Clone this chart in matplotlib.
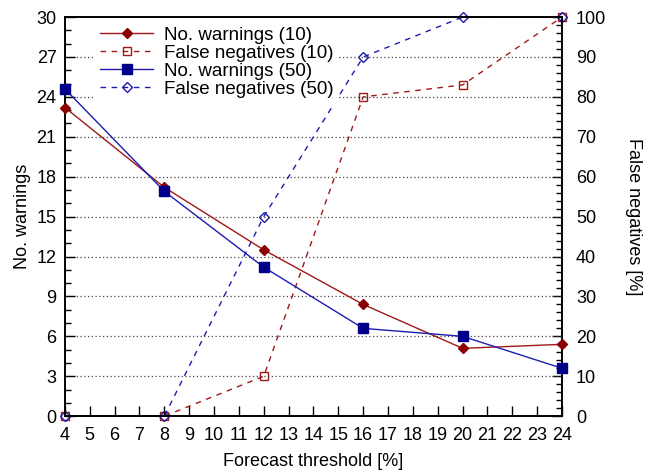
import matplotlib
matplotlib.use("Agg")
import matplotlib.pyplot as plt
from matplotlib.ticker import MultipleLocator

plt.rcParams['font.family'] = ['Liberation Sans', 'DejaVu Sans']
plt.rcParams['font.size'] = 13

thresholds = [4, 8, 12, 16, 20, 24]
warnings_10 = [23.2, 17.2, 12.5, 8.4, 5.1, 5.4]
false_neg_10 = [0, 0, 10, 80, 83, 100]
warnings_50 = [24.6, 16.9, 11.2, 6.6, 6.0, 3.6]
false_neg_50 = [0, 0, 50, 90, 100, 100]

red_line = '#a01818'
red = '#8b0000'
blue_line = '#1c1cb0'
blue = '#00008b'

fig = plt.figure(figsize=(6.49, 4.74), dpi=100)
ax = fig.add_axes([0.100, 0.122, 0.766, 0.842])
ax2 = ax.twinx()

ax.set_zorder(2)
ax.patch.set_visible(False)

l1, = ax.plot(thresholds, warnings_10, color=red_line, lw=1, marker='D', ms=5.5,
              mfc=red, mec=red, clip_on=False, zorder=5, label='No. warnings (10)')
l3, = ax.plot(thresholds, warnings_50, color=blue_line, lw=1, marker='s', ms=6.5,
              mfc=blue, mec=blue, clip_on=False, zorder=5, label='No. warnings (50)')
l2, = ax2.plot(thresholds, false_neg_10, color=red_line, lw=1, ls=(0, (4, 4)), marker='s', ms=6,
               mfc='none', mec=red_line, clip_on=False, label='False negatives (10)')
l4, = ax2.plot(thresholds, false_neg_50, color=blue_line, lw=1, ls=(0, (4, 4)), marker='D', ms=5.5,
               mfc='none', mec=blue_line, clip_on=False, label='False negatives (50)')

ax.set_xlim(4, 24)
ax.set_ylim(0, 30)
ax2.set_ylim(0, 100)
ax.xaxis.set_major_locator(MultipleLocator(1))
ax.yaxis.set_major_locator(MultipleLocator(3))
ax.yaxis.set_minor_locator(MultipleLocator(1))
ax2.yaxis.set_major_locator(MultipleLocator(10))
ax2.yaxis.set_minor_locator(MultipleLocator(2))

for y in range(3, 30, 3):
    ax.axhline(y, color='#444444', lw=0.9, ls=(0, (1, 2)), zorder=0)

ax.tick_params(axis='x', direction='in', length=7, width=1, top=False, pad=8)
ax.tick_params(axis='y', which='major', direction='in', length=7, width=1, right=False, pad=6)
ax.tick_params(axis='y', which='minor', direction='in', length=4, width=1, right=False)
ax2.tick_params(axis='y', which='major', direction='in', length=7, width=1, pad=10)
ax2.tick_params(axis='y', which='minor', direction='in', length=4, width=1)

for s in ax.spines.values():
    s.set_linewidth(1.2)
for s in ax2.spines.values():
    s.set_linewidth(1.2)

ax.set_xlabel('Forecast threshold [%]', labelpad=6)
ax.set_ylabel('No. warnings', labelpad=4)
ax2.set_ylabel('False negatives [%]', rotation=270, labelpad=26)

leg = ax.legend(handles=[l1, l2, l3, l4], loc='upper left', bbox_to_anchor=(0.06, 0.99),
                frameon=True, fancybox=False, edgecolor='none', facecolor='white',
                framealpha=1, handlelength=2.8, handletextpad=0.6, labelspacing=0.05,
                borderpad=0.3, borderaxespad=0.0, fontsize=13.5)
leg.set_zorder(10)

fig.savefig('out.png', dpi=100)
